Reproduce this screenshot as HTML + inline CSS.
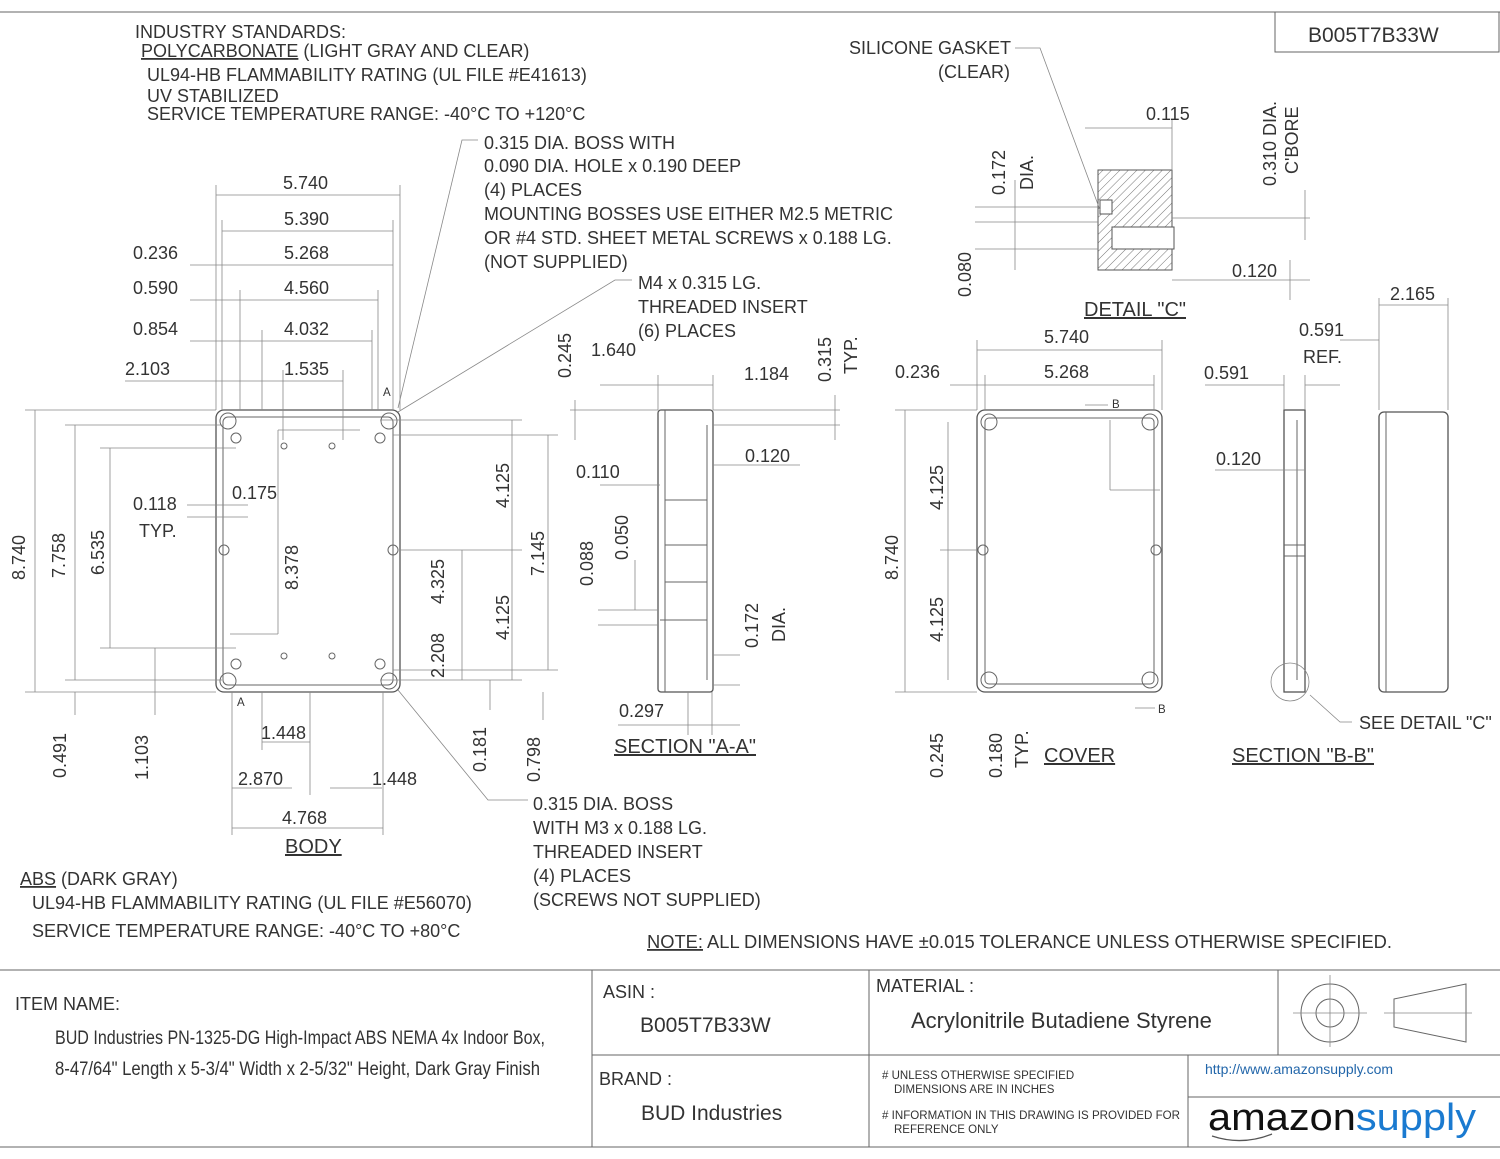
<!DOCTYPE html>
<html><head><meta charset="utf-8"><style>
html,body{margin:0;padding:0;background:#fff;}
svg{display:block;}
text{font-family:"Liberation Sans",sans-serif;fill:#333;font-size:18px;}
.s{font-size:11.5px;}
.l{stroke:#666;stroke-width:1;fill:none;}
.d{stroke:#888;stroke-width:0.8;fill:none;}
.k{stroke:#555;stroke-width:1.3;fill:none;}
</style></head><body>
<svg width="1500" height="1159" viewBox="0 0 1500 1159">
<!-- borders -->
<line class="l" x1="0" y1="12" x2="1500" y2="12"/>
<rect class="l" x="1275" y="12" width="224" height="40"/>
<text x="1308" y="42" style="font-size:21px">B005T7B33W</text>
<line class="l" x1="0" y1="970" x2="1500" y2="970"/>
<line class="l" x1="0" y1="1147" x2="1500" y2="1147"/>
<line class="l" x1="592" y1="970" x2="592" y2="1147"/>
<line class="l" x1="869" y1="970" x2="869" y2="1147"/>
<line class="l" x1="1278" y1="970" x2="1278" y2="1055"/>
<line class="l" x1="592" y1="1055" x2="1500" y2="1055"/>
<line class="l" x1="1188" y1="1055" x2="1188" y2="1147"/>
<line class="l" x1="1188" y1="1097" x2="1500" y2="1097"/>

<!-- title block text -->
<text x="15" y="1010">ITEM NAME:</text>
<text x="55" y="1044" style="font-size:19px" textLength="490" lengthAdjust="spacingAndGlyphs">BUD Industries PN-1325-DG High-Impact ABS NEMA 4x Indoor Box,</text>
<text x="55" y="1075" style="font-size:19px" textLength="485" lengthAdjust="spacingAndGlyphs">8-47/64" Length x 5-3/4" Width x 2-5/32" Height, Dark Gray Finish</text>
<text x="603" y="998">ASIN :</text>
<text x="640" y="1032" style="font-size:21px">B005T7B33W</text>
<text x="599" y="1085">BRAND :</text>
<text x="641" y="1120" style="font-size:21px">BUD Industries</text>
<text x="876" y="992">MATERIAL :</text>
<text x="911" y="1028" style="font-size:22px">Acrylonitrile Butadiene Styrene</text>
<text class="s" x="882" y="1079">#  UNLESS OTHERWISE SPECIFIED</text>
<text class="s" x="894" y="1093">DIMENSIONS ARE IN INCHES</text>
<text class="s" x="882" y="1119" textLength="298" lengthAdjust="spacingAndGlyphs">#  INFORMATION IN THIS DRAWING IS PROVIDED FOR</text>
<text class="s" x="894" y="1133">REFERENCE ONLY</text>
<text x="1205" y="1074" style="font-size:14px;fill:#2266aa">http://www.amazonsupply.com</text>
<text x="1208" y="1130" style="font-size:38px;fill:#111" textLength="268" lengthAdjust="spacingAndGlyphs">amazon<tspan style="fill:#1a7ad0">supply</tspan></text>
<path d="M1212 1136 q30 10 60 -2" class="k"/>
<circle class="l" cx="1330" cy="1013" r="29"/><circle class="l" cx="1330" cy="1013" r="14"/>
<line class="d" x1="1293" y1="1013" x2="1367" y2="1013"/><line class="d" x1="1330" y1="975" x2="1330" y2="1047"/>
<path class="l" d="M1394 999 L1466 984 L1466 1042 L1394 1027 Z"/>
<line class="d" x1="1384" y1="1013" x2="1472" y2="1013"/>

<!-- top notes -->
<text x="135" y="38">INDUSTRY STANDARDS:</text>
<text x="141" y="57"><tspan text-decoration="underline">POLYCARBONATE</tspan> (LIGHT GRAY AND CLEAR)</text>
<text x="147" y="81">UL94-HB FLAMMABILITY RATING (UL FILE #E41613)</text>
<text x="147" y="102">UV STABILIZED</text>
<text x="147" y="120">SERVICE TEMPERATURE RANGE:  -40°C TO +120°C</text>
<text x="484" y="149">0.315 DIA. BOSS WITH</text>
<text x="484" y="172">0.090 DIA. HOLE x 0.190 DEEP</text>
<text x="484" y="196">(4) PLACES</text>
<text x="484" y="220">MOUNTING BOSSES USE EITHER M2.5 METRIC</text>
<text x="484" y="244">OR #4 STD. SHEET METAL SCREWS x 0.188 LG.</text>
<text x="484" y="268">(NOT SUPPLIED)</text>
<text x="638" y="289">M4 x 0.315 LG.</text>
<text x="638" y="313">THREADED INSERT</text>
<text x="638" y="337">(6) PLACES</text>
<polyline class="d" points="478,140 462,140 398,408"/>
<polyline class="d" points="632,280 615,280 398,412"/>

<!-- BODY -->
<rect class="k" x="216" y="410" width="184" height="282" rx="8"/>
<rect class="l" x="223" y="417" width="170" height="268" rx="5"/>
<g class="l">
<circle cx="228" cy="421" r="8"/><circle cx="389" cy="421" r="8"/><circle cx="228" cy="681" r="8"/><circle cx="389" cy="681" r="8"/>
<circle cx="224" cy="550" r="5"/><circle cx="393" cy="550" r="5"/>
<circle cx="236" cy="438" r="5"/><circle cx="380" cy="438" r="5"/><circle cx="236" cy="664" r="5"/><circle cx="380" cy="664" r="5"/>
<circle cx="284" cy="446" r="3"/><circle cx="332" cy="446" r="3"/><circle cx="284" cy="656" r="3"/><circle cx="332" cy="656" r="3"/>
</g>
<text class="s" x="383" y="396">A</text><text class="s" x="237" y="706">A</text>
<g class="d">
<line x1="216" y1="195" x2="400" y2="195"/><line x1="222" y1="231" x2="393" y2="231"/>
<line x1="190" y1="265" x2="393" y2="265"/><line x1="190" y1="300" x2="378" y2="300"/>
<line x1="190" y1="341" x2="372" y2="341"/><line x1="125" y1="381" x2="343" y2="381"/>
<line x1="216" y1="185" x2="216" y2="410"/><line x1="400" y1="185" x2="400" y2="410"/>
<line x1="222" y1="220" x2="222" y2="410"/><line x1="393" y1="220" x2="393" y2="410"/>
<line x1="240" y1="290" x2="240" y2="410"/><line x1="378" y1="290" x2="378" y2="410"/>
<line x1="262" y1="330" x2="262" y2="410"/><line x1="372" y1="330" x2="372" y2="410"/>
<line x1="283" y1="370" x2="283" y2="440"/><line x1="343" y1="370" x2="343" y2="440"/>
<line x1="35" y1="410" x2="35" y2="692"/><line x1="25" y1="410" x2="216" y2="410"/><line x1="25" y1="692" x2="216" y2="692"/>
<line x1="75" y1="425" x2="75" y2="680"/><line x1="65" y1="425" x2="222" y2="425"/><line x1="65" y1="680" x2="222" y2="680"/>
<line x1="110" y1="448" x2="110" y2="648"/><line x1="100" y1="448" x2="236" y2="448"/><line x1="100" y1="648" x2="236" y2="648"/>
<line x1="75" y1="692" x2="75" y2="715"/><line x1="155" y1="648" x2="155" y2="715"/>
<line x1="187" y1="505" x2="248" y2="505"/><line x1="187" y1="517" x2="248" y2="517"/>
<line x1="278" y1="430" x2="278" y2="634"/><line x1="278" y1="430" x2="360" y2="430"/><line x1="278" y1="634" x2="230" y2="634"/>
<line x1="512" y1="420" x2="512" y2="680"/><line x1="400" y1="550" x2="522" y2="550"/>
<line x1="380" y1="420" x2="522" y2="420"/><line x1="380" y1="680" x2="522" y2="680"/>
<line x1="548" y1="435" x2="548" y2="670"/><line x1="393" y1="435" x2="558" y2="435"/><line x1="393" y1="670" x2="558" y2="670"/>
<line x1="462" y1="550" x2="462" y2="680"/>
<line x1="490" y1="680" x2="490" y2="710"/><line x1="543" y1="692" x2="543" y2="720"/>
<line x1="262" y1="742" x2="310" y2="742"/><line x1="232" y1="788" x2="292" y2="788"/><line x1="330" y1="788" x2="382" y2="788"/>
<line x1="232" y1="828" x2="383" y2="828"/>
<line x1="232" y1="692" x2="232" y2="835"/><line x1="383" y1="692" x2="383" y2="835"/><line x1="262" y1="692" x2="262" y2="750"/><line x1="310" y1="692" x2="310" y2="795"/>
<polyline points="398,690 488,800 528,800"/>
</g>
<g>
<text x="283" y="189">5.740</text><text x="284" y="225">5.390</text><text x="284" y="259">5.268</text>
<text x="284" y="294">4.560</text><text x="284" y="335">4.032</text><text x="284" y="375">1.535</text>
<text x="133" y="259">0.236</text><text x="133" y="294">0.590</text><text x="133" y="335">0.854</text><text x="125" y="375">2.103</text>
<text x="133" y="510">0.118</text><text x="139" y="537">TYP.</text><text x="232" y="499">0.175</text>
<text x="261" y="739">1.448</text><text x="238" y="785">2.870</text><text x="372" y="785">1.448</text><text x="282" y="824">4.768</text>
<text x="285" y="853" style="font-size:20px" text-decoration="underline">BODY</text>
<text transform="translate(25,580) rotate(-90)">8.740</text>
<text transform="translate(65,578) rotate(-90)">7.758</text>
<text transform="translate(104,575) rotate(-90)">6.535</text>
<text transform="translate(66,778) rotate(-90)">0.491</text>
<text transform="translate(148,780) rotate(-90)">1.103</text>
<text transform="translate(298,590) rotate(-90)">8.378</text>
<text transform="translate(444,604) rotate(-90)">4.325</text>
<text transform="translate(444,678) rotate(-90)">2.208</text>
<text transform="translate(509,508) rotate(-90)">4.125</text>
<text transform="translate(509,640) rotate(-90)">4.125</text>
<text transform="translate(544,576) rotate(-90)">7.145</text>
<text transform="translate(486,772) rotate(-90)">0.181</text>
<text transform="translate(540,782) rotate(-90)">0.798</text>
</g>
<text x="533" y="810">0.315 DIA. BOSS</text>
<text x="533" y="834">WITH M3 x 0.188 LG.</text>
<text x="533" y="858">THREADED INSERT</text>
<text x="533" y="882">(4) PLACES</text>
<text x="533" y="906">(SCREWS NOT SUPPLIED)</text>
<text x="20" y="885"><tspan text-decoration="underline">ABS</tspan> (DARK GRAY)</text>
<text x="32" y="909">UL94-HB FLAMMABILITY RATING (UL FILE #E56070)</text>
<text x="32" y="937">SERVICE TEMPERATURE RANGE:  -40°C TO +80°C</text>
<text x="647" y="948" textLength="745" lengthAdjust="spacingAndGlyphs"><tspan text-decoration="underline">NOTE:</tspan>  ALL DIMENSIONS HAVE ±0.015 TOLERANCE UNLESS OTHERWISE SPECIFIED.</text>

<!-- SECTION A-A -->
<rect class="k" x="658" y="410" width="55" height="282" rx="3"/>
<line class="l" x1="665" y1="410" x2="665" y2="692"/>
<line class="l" x1="707" y1="425" x2="707" y2="680"/>
<line class="l" x1="665" y1="500" x2="707" y2="500"/><line class="l" x1="665" y1="545" x2="707" y2="545"/>
<line class="l" x1="665" y1="582" x2="707" y2="582"/><line class="l" x1="660" y1="620" x2="707" y2="620"/>
<g class="d">
<line x1="658" y1="385" x2="713" y2="385"/><line x1="600" y1="385" x2="658" y2="385"/>
<line x1="658" y1="375" x2="658" y2="410"/><line x1="713" y1="375" x2="713" y2="410"/>
<line x1="575" y1="400" x2="575" y2="440"/><line x1="570" y1="410" x2="658" y2="410"/>
<line x1="835" y1="395" x2="835" y2="440"/><line x1="713" y1="410" x2="840" y2="410"/><line x1="713" y1="425" x2="840" y2="425"/>
<line x1="713" y1="465" x2="800" y2="465"/><line x1="600" y1="485" x2="660" y2="485"/>
<line x1="598" y1="610" x2="658" y2="610"/><line x1="598" y1="625" x2="658" y2="625"/>
<line x1="635" y1="560" x2="635" y2="610"/>
<line x1="618" y1="725" x2="740" y2="725"/><line x1="688" y1="692" x2="688" y2="735"/><line x1="712" y1="692" x2="712" y2="735"/>
<line x1="713" y1="655" x2="740" y2="655"/><line x1="713" y1="685" x2="740" y2="685"/>
</g>
<text x="591" y="356">1.640</text><text x="744" y="380">1.184</text>
<text transform="translate(571,378) rotate(-90)">0.245</text>
<text transform="translate(831,382) rotate(-90)">0.315</text>
<text transform="translate(857,374) rotate(-90)">TYP.</text>
<text x="745" y="462">0.120</text><text x="576" y="478">0.110</text>
<text transform="translate(628,560) rotate(-90)">0.050</text>
<text transform="translate(593,586) rotate(-90)">0.088</text>
<text transform="translate(758,648) rotate(-90)">0.172</text>
<text transform="translate(785,642) rotate(-90)">DIA.</text>
<text x="619" y="717">0.297</text>
<text x="614" y="753" style="font-size:20px" text-decoration="underline">SECTION "A-A"</text>

<!-- COVER -->
<rect class="k" x="977" y="410" width="185" height="282" rx="8"/>
<rect class="l" x="985" y="418" width="169" height="266" rx="4"/>
<g class="l"><circle cx="989" cy="422" r="8"/><circle cx="1150" cy="422" r="8"/><circle cx="989" cy="680" r="8"/><circle cx="1150" cy="680" r="8"/>
<circle cx="983" cy="550" r="5"/><circle cx="1156" cy="550" r="5"/></g>
<g class="d">
<line x1="977" y1="350" x2="1162" y2="350"/><line x1="977" y1="340" x2="977" y2="410"/><line x1="1162" y1="340" x2="1162" y2="410"/>
<line x1="950" y1="385" x2="1154" y2="385"/><line x1="985" y1="375" x2="985" y2="410"/><line x1="1154" y1="375" x2="1154" y2="410"/>
<line x1="905" y1="410" x2="905" y2="692"/><line x1="895" y1="410" x2="977" y2="410"/><line x1="895" y1="692" x2="977" y2="692"/>
<line x1="948" y1="422" x2="948" y2="680"/><line x1="940" y1="550" x2="977" y2="550"/>
<line x1="1110" y1="420" x2="1110" y2="490"/><line x1="1110" y1="490" x2="1160" y2="490"/>
<line x1="1085" y1="405" x2="1108" y2="405"/><line x1="1135" y1="708" x2="1155" y2="708"/>
</g>
<text class="s" x="1112" y="408">B</text><text class="s" x="1158" y="713">B</text>
<text x="1044" y="343">5.740</text><text x="1044" y="378">5.268</text><text x="895" y="378">0.236</text>
<text transform="translate(898,580) rotate(-90)">8.740</text>
<text transform="translate(943,510) rotate(-90)">4.125</text>
<text transform="translate(943,642) rotate(-90)">4.125</text>
<text transform="translate(943,778) rotate(-90)">0.245</text>
<text transform="translate(1002,778) rotate(-90)">0.180</text>
<text transform="translate(1028,768) rotate(-90)">TYP.</text>
<text x="1044" y="762" style="font-size:20px" text-decoration="underline">COVER</text>

<!-- SECTION B-B -->
<rect class="k" x="1284" y="410" width="21" height="282"/>
<line class="l" x1="1297" y1="420" x2="1297" y2="680"/>
<line class="l" x1="1284" y1="545" x2="1305" y2="545"/><line class="l" x1="1284" y1="556" x2="1305" y2="556"/>
<circle class="d" cx="1290" cy="682" r="19"/>
<polyline class="d" points="1310,695 1340,722 1352,722"/>
<g class="d"><line x1="1205" y1="385" x2="1284" y2="385"/><line x1="1305" y1="385" x2="1340" y2="385"/>
<line x1="1284" y1="375" x2="1284" y2="410"/><line x1="1305" y1="375" x2="1305" y2="410"/>
<line x1="1215" y1="470" x2="1305" y2="470"/>
<line x1="1379" y1="305" x2="1448" y2="305"/><line x1="1379" y1="298" x2="1379" y2="410"/><line x1="1448" y1="298" x2="1448" y2="410"/>
<line x1="1340" y1="340" x2="1379" y2="340"/></g>
<text x="1204" y="379">0.591</text><text x="1299" y="336">0.591</text><text x="1303" y="363">REF.</text>
<text x="1216" y="465">0.120</text><text x="1390" y="300">2.165</text>
<text x="1359" y="729">SEE DETAIL "C"</text>
<text x="1232" y="762" style="font-size:20px" text-decoration="underline">SECTION "B-B"</text>
<rect class="k" x="1379" y="412" width="69" height="280" rx="5"/>
<line class="l" x1="1386" y1="412" x2="1386" y2="692"/>

<!-- DETAIL C -->
<defs><pattern id="h" width="6" height="6" patternUnits="userSpaceOnUse" patternTransform="rotate(45)"><line x1="0" y1="0" x2="0" y2="6" stroke="#777" stroke-width="1"/></pattern></defs>
<path d="M1098 170 L1172 170 L1172 270 L1098 270 Z" fill="url(#h)" stroke="#555"/>
<rect x="1100" y="200" width="12" height="14" fill="#fff" stroke="#555"/>
<rect x="1112" y="227" width="62" height="22" fill="#fff" stroke="#555"/>
<text x="849" y="54">SILICONE GASKET</text><text x="938" y="78">(CLEAR)</text>
<polyline class="d" points="1015,48 1040,48 1100,210"/>
<g class="d"><line x1="1085" y1="128" x2="1172" y2="128"/><line x1="1172" y1="120" x2="1172" y2="170"/>
<line x1="975" y1="207" x2="1098" y2="207"/><line x1="975" y1="222" x2="1098" y2="222"/><line x1="1015" y1="180" x2="1015" y2="270"/>
<line x1="975" y1="249" x2="1098" y2="249"/><line x1="1172" y1="218" x2="1310" y2="218"/><line x1="1305" y1="190" x2="1305" y2="240"/>
<line x1="1172" y1="280" x2="1310" y2="280"/><line x1="1290" y1="260" x2="1290" y2="300"/></g>
<text x="1146" y="120">0.115</text>
<text transform="translate(1005,195) rotate(-90)">0.172</text>
<text transform="translate(1033,190) rotate(-90)">DIA.</text>
<text transform="translate(971,297) rotate(-90)">0.080</text>
<text transform="translate(1276,186) rotate(-90)">0.310 DIA.</text>
<text transform="translate(1298,174) rotate(-90)">C'BORE</text>
<text x="1232" y="277">0.120</text>
<text x="1084" y="316" style="font-size:20px" text-decoration="underline">DETAIL "C"</text>
</svg>
</body></html>
